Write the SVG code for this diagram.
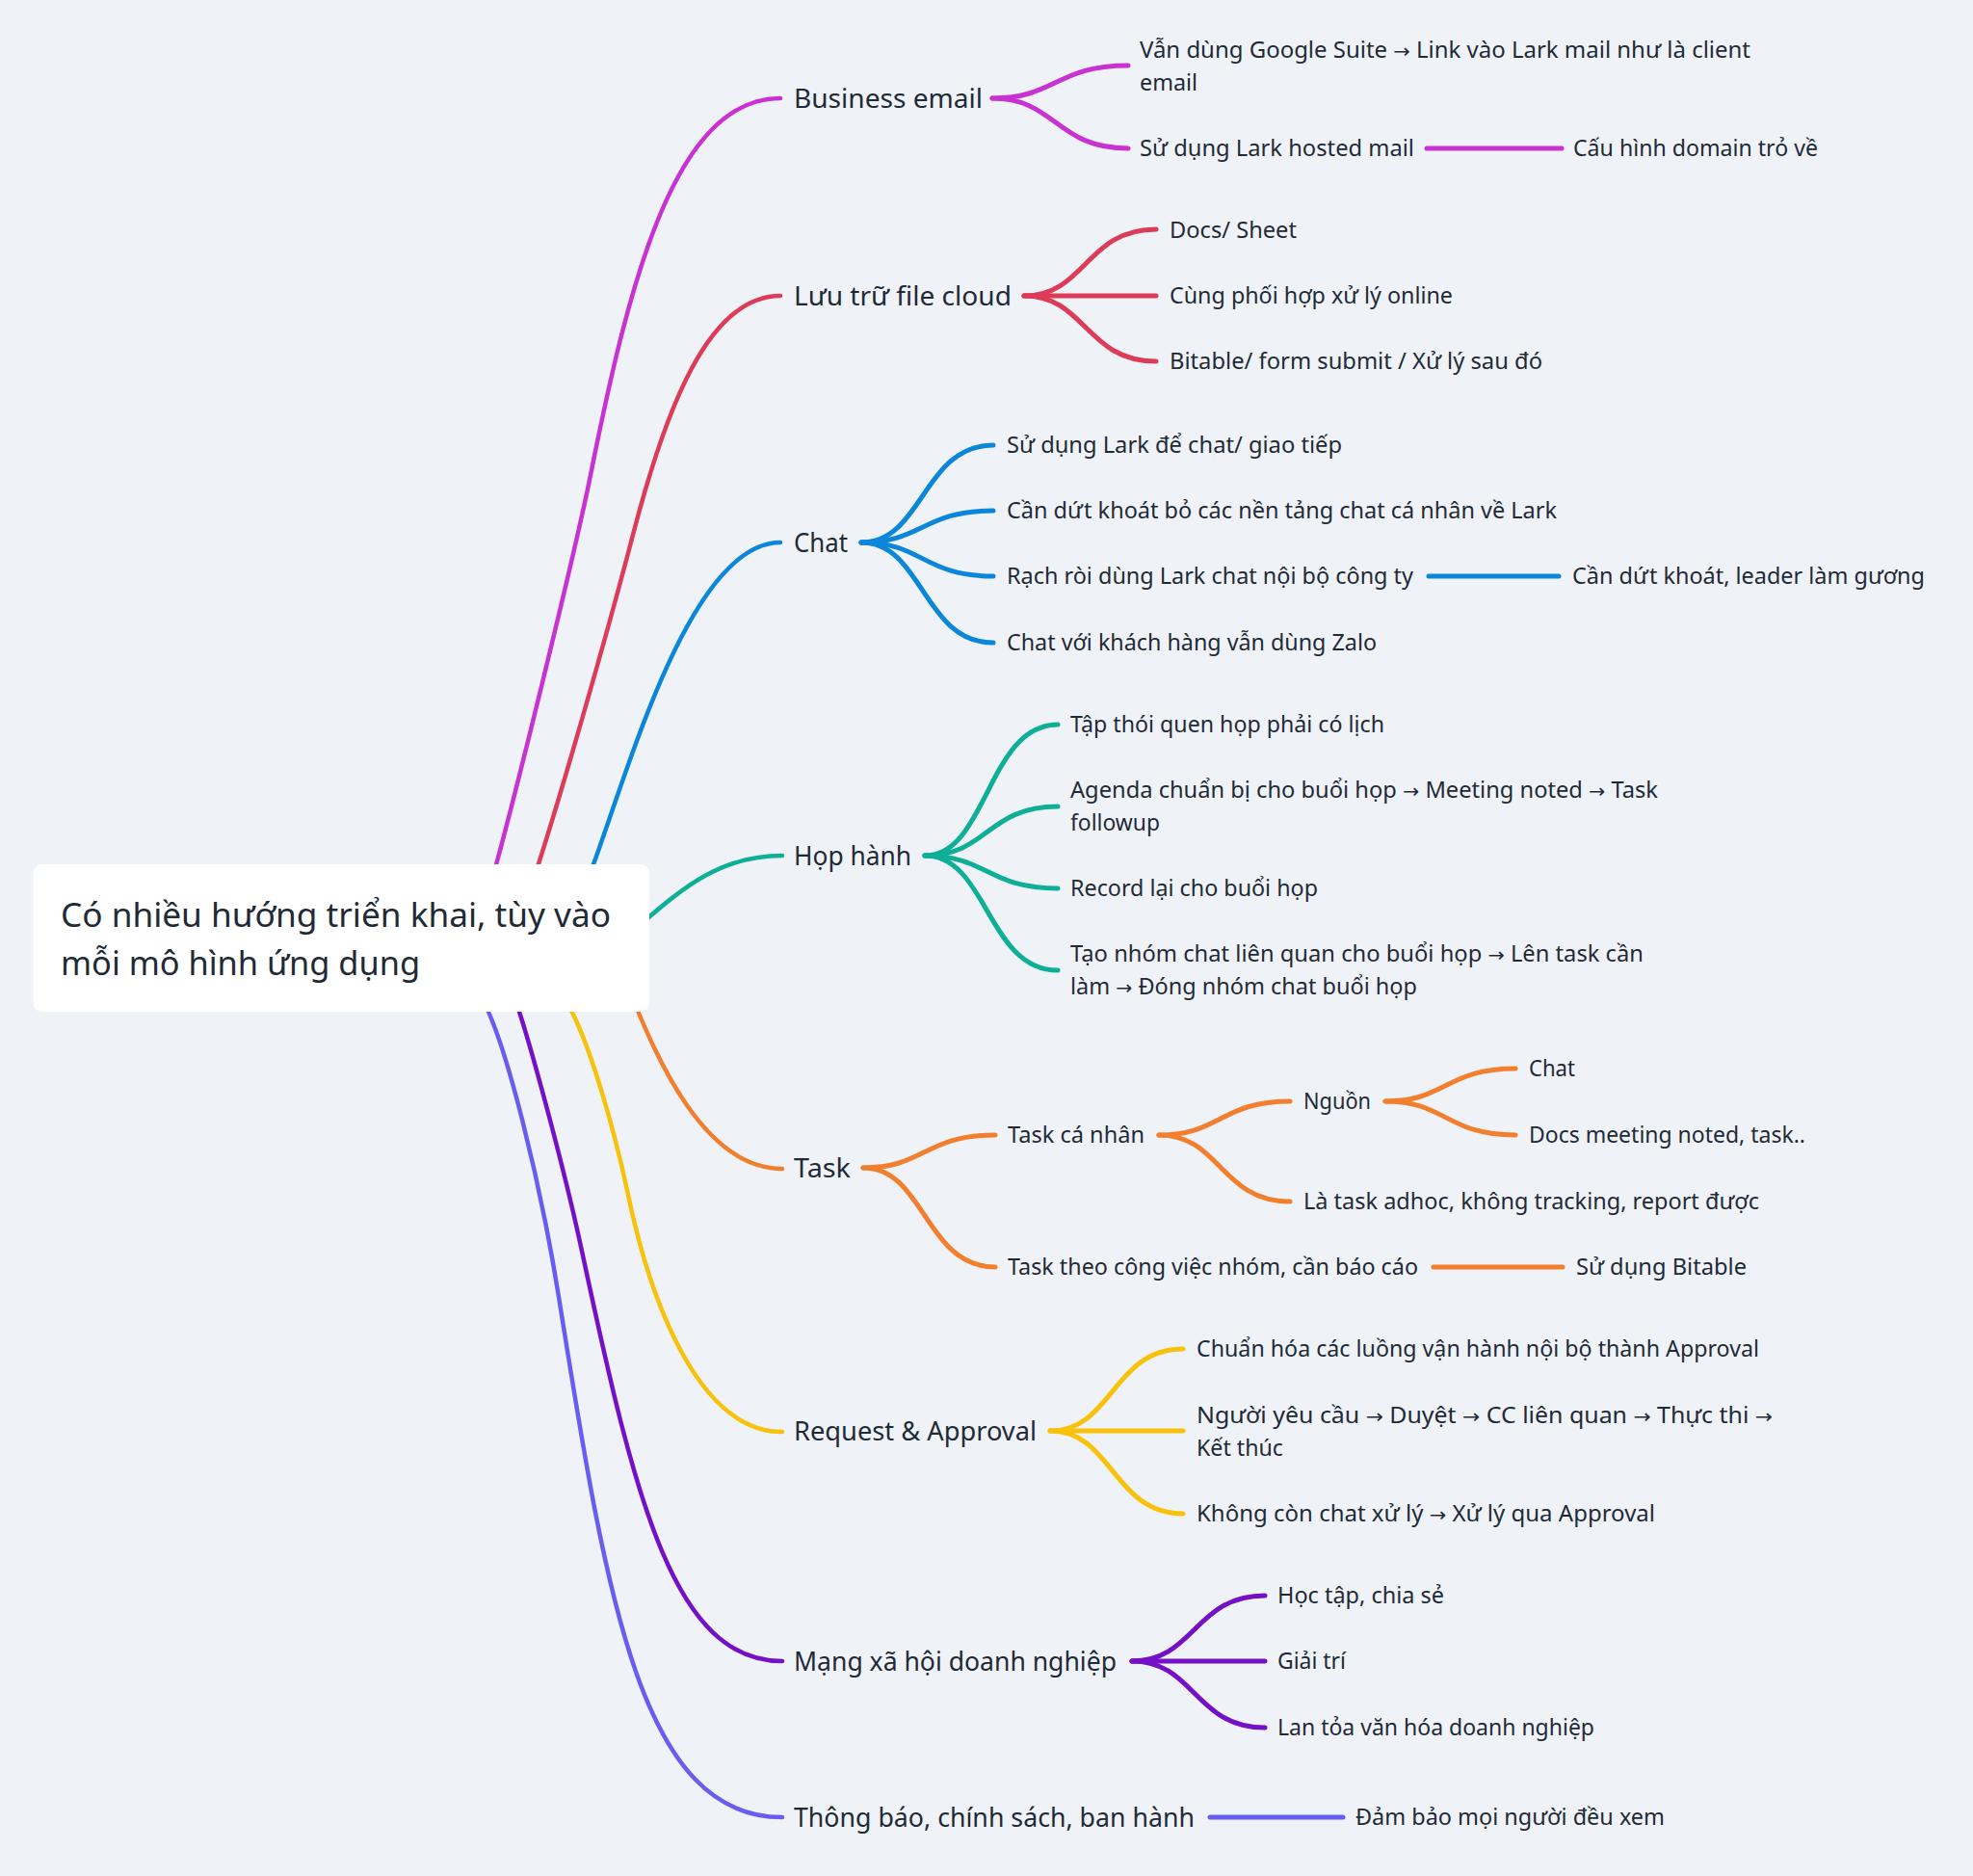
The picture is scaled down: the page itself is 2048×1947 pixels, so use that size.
<svg xmlns="http://www.w3.org/2000/svg" width="2048" height="1947" viewBox="0 0 2048 1947">
<style>
text{font-family:"Noto Sans","Liberation Sans","DejaVu Sans",sans-serif;fill:#1f2a37}
.root{font-size:34px}
.l1{font-size:27px}
.l2{font-size:23px}
.ar{font-family:"DejaVu Sans",sans-serif;font-size:20px}
.r{fill:none;stroke-width:4.5;stroke-linecap:round}
.c{fill:none;stroke-width:5;stroke-linecap:round}
.mag{stroke:#c932d2}.red{stroke:#dc3c58}.blu{stroke:#0b86d9}.tea{stroke:#0fae96}
.ora{stroke:#f27f2d}.yel{stroke:#f8c10c}.pur{stroke:#7411c6}.vio{stroke:#6b5cf0}
</style>
<rect width="2048" height="1947" fill="#eff3f8"/>
<g id="connectors">
<path class="r mag" d="M511 912 C534 830 597 573 613 493 C653 293 700 102 810 102"/>
<path class="r red" d="M554 912 C580.4 832 631 655 657 555 C690.8 425 735 307 810 307"/>
<path class="r blu" d="M612 908 C650 808 715 563 810 563"/>
<path class="r tea" d="M650 972 C700 930 740 888 812 888"/>
<path class="r ora" d="M652 1025 C675 1080 725 1213 812 1213"/>
<path class="r yel" d="M587 1038 C610 1075 637.3 1170 652 1240 C675 1350 725 1486 812 1486"/>
<path class="r pur" d="M535 1038 C549 1078 586 1213 605 1303 C660 1560 700 1724 812 1724"/>
<path class="r vio" d="M500 1036 C525 1080 560.8 1226 580 1346 C630 1660 665 1886 812 1886"/>

<path class="c mag" d="M1030 102 C1096 102 1096 68 1171 68"/>
<path class="c mag" d="M1030 102 C1096 102 1096 154 1171 154"/>
<path class="c mag" d="M1481 154 L1621 154"/>

<path class="c red" d="M1063 307 C1127 307 1127 238 1200 238"/>
<path class="c red" d="M1063 307 L1200 307"/>
<path class="c red" d="M1063 307 C1127 307 1127 375 1200 375"/>

<path class="c blu" d="M894 563 C958 563 958 462 1031 462"/>
<path class="c blu" d="M894 563 C958 563 958 530 1031 530"/>
<path class="c blu" d="M894 563 C958 563 958 598 1031 598"/>
<path class="c blu" d="M894 563 C958 563 958 667 1031 667"/>
<path class="c blu" d="M1483 598 L1618 598"/>

<path class="c tea" d="M960 888 C1025 888 1025 752 1098 752"/>
<path class="c tea" d="M960 888 C1025 888 1025 837 1098 837"/>
<path class="c tea" d="M960 888 C1025 888 1025 922 1098 922"/>
<path class="c tea" d="M960 888 C1025 888 1025 1007 1098 1007"/>

<path class="c ora" d="M896 1212 C960 1212 960 1178 1033 1178"/>
<path class="c ora" d="M896 1212 C960 1212 960 1315 1033 1315"/>
<path class="c ora" d="M1203 1178 C1267 1178 1267 1143 1339 1143"/>
<path class="c ora" d="M1203 1178 C1267 1178 1267 1247 1339 1247"/>
<path class="c ora" d="M1438 1143 C1501 1143 1501 1109 1573 1109"/>
<path class="c ora" d="M1438 1143 C1501 1143 1501 1178 1573 1178"/>
<path class="c ora" d="M1488 1315 L1622 1315"/>

<path class="c yel" d="M1090 1485 C1155 1485 1155 1400 1228 1400"/>
<path class="c yel" d="M1090 1485 L1228 1485"/>
<path class="c yel" d="M1090 1485 C1155 1485 1155 1571 1228 1571"/>

<path class="c pur" d="M1175 1724 C1240 1724 1240 1656 1313 1656"/>
<path class="c pur" d="M1175 1724 L1313 1724"/>
<path class="c pur" d="M1175 1724 C1240 1724 1240 1793 1313 1793"/>

<path class="c vio" d="M1256 1886 L1394 1886"/>
</g>

<g id="root">
<rect x="34.5" y="897" width="639.5" height="153" rx="9" fill="#ffffff"/>
<text class="root" x="63" y="962" textLength="571" lengthAdjust="spacingAndGlyphs">Có nhiều hướng triển khai, tùy vào</text>
<text class="root" x="63" y="1012" textLength="373" lengthAdjust="spacingAndGlyphs">mỗi mô hình ứng dụng</text>
</g>

<g id="business-email"><text class="l1" x="824" y="112" textLength="196" lengthAdjust="spacingAndGlyphs">Business email</text></g>
<g id="google-suite">
<text class="l2" x="1183" y="60" textLength="634" lengthAdjust="spacingAndGlyphs">Vẫn dùng Google Suite <tspan class="ar">→</tspan> Link vào Lark mail như là client</text>
<text class="l2" x="1183" y="94" textLength="60" lengthAdjust="spacingAndGlyphs">email</text>
</g>
<g id="lark-hosted-mail"><text class="l2" x="1183" y="162" textLength="285" lengthAdjust="spacingAndGlyphs">Sử dụng Lark hosted mail</text></g>
<g id="domain"><text class="l2" x="1633" y="162" textLength="254" lengthAdjust="spacingAndGlyphs">Cấu hình domain trỏ về</text></g>

<g id="file-cloud"><text class="l1" x="824" y="317" textLength="226" lengthAdjust="spacingAndGlyphs">Lưu trữ file cloud</text></g>
<g id="docs-sheet"><text class="l2" x="1214" y="247" textLength="132" lengthAdjust="spacingAndGlyphs">Docs/ Sheet</text></g>
<g id="phoi-hop"><text class="l2" x="1214" y="315" textLength="294" lengthAdjust="spacingAndGlyphs">Cùng phối hợp xử lý online</text></g>
<g id="bitable-form"><text class="l2" x="1214" y="383" textLength="387" lengthAdjust="spacingAndGlyphs">Bitable/ form submit / Xử lý sau đó</text></g>

<g id="chat"><text class="l1" x="824" y="573" textLength="56" lengthAdjust="spacingAndGlyphs">Chat</text></g>
<g id="chat-1"><text class="l2" x="1045" y="470" textLength="348" lengthAdjust="spacingAndGlyphs">Sử dụng Lark để chat/ giao tiếp</text></g>
<g id="chat-2"><text class="l2" x="1045" y="538" textLength="571" lengthAdjust="spacingAndGlyphs">Cần dứt khoát bỏ các nền tảng chat cá nhân về Lark</text></g>
<g id="chat-3"><text class="l2" x="1045" y="606" textLength="422" lengthAdjust="spacingAndGlyphs">Rạch ròi dùng Lark chat nội bộ công ty</text></g>
<g id="chat-3a"><text class="l2" x="1632" y="606" textLength="366" lengthAdjust="spacingAndGlyphs">Cần dứt khoát, leader làm gương</text></g>
<g id="chat-4"><text class="l2" x="1045" y="675" textLength="384" lengthAdjust="spacingAndGlyphs">Chat với khách hàng vẫn dùng Zalo</text></g>

<g id="hop-hanh"><text class="l1" x="824" y="898" textLength="122" lengthAdjust="spacingAndGlyphs">Họp hành</text></g>
<g id="hop-1"><text class="l2" x="1111" y="760" textLength="326" lengthAdjust="spacingAndGlyphs">Tập thói quen họp phải có lịch</text></g>
<g id="hop-2">
<text class="l2" x="1111" y="828" textLength="610" lengthAdjust="spacingAndGlyphs">Agenda chuẩn bị cho buổi họp <tspan class="ar">→</tspan> Meeting noted <tspan class="ar">→</tspan> Task</text>
<text class="l2" x="1111" y="862" textLength="93" lengthAdjust="spacingAndGlyphs">followup</text>
</g>
<g id="hop-3"><text class="l2" x="1111" y="930" textLength="257" lengthAdjust="spacingAndGlyphs">Record lại cho buổi họp</text></g>
<g id="hop-4">
<text class="l2" x="1111" y="998" textLength="595" lengthAdjust="spacingAndGlyphs">Tạo nhóm chat liên quan cho buổi họp <tspan class="ar">→</tspan> Lên task cần</text>
<text class="l2" x="1111" y="1032" textLength="360" lengthAdjust="spacingAndGlyphs">làm <tspan class="ar">→</tspan> Đóng nhóm chat buổi họp</text>
</g>

<g id="task"><text class="l1" x="824" y="1222" textLength="59" lengthAdjust="spacingAndGlyphs">Task</text></g>
<g id="task-ca-nhan"><text class="l2" x="1046" y="1186" textLength="142" lengthAdjust="spacingAndGlyphs">Task cá nhân</text></g>
<g id="nguon"><text class="l2" x="1353" y="1151" textLength="70" lengthAdjust="spacingAndGlyphs">Nguồn</text></g>
<g id="nguon-chat"><text class="l2" x="1587" y="1117" textLength="48" lengthAdjust="spacingAndGlyphs">Chat</text></g>
<g id="nguon-docs"><text class="l2" x="1587" y="1186" textLength="287" lengthAdjust="spacingAndGlyphs">Docs meeting noted, task..</text></g>
<g id="adhoc"><text class="l2" x="1353" y="1255" textLength="473" lengthAdjust="spacingAndGlyphs">Là task adhoc, không tracking, report được</text></g>
<g id="task-nhom"><text class="l2" x="1046" y="1323" textLength="426" lengthAdjust="spacingAndGlyphs">Task theo công việc nhóm, cần báo cáo</text></g>
<g id="bitable"><text class="l2" x="1636" y="1323" textLength="177" lengthAdjust="spacingAndGlyphs">Sử dụng Bitable</text></g>

<g id="request"><text class="l1" x="824" y="1495" textLength="252" lengthAdjust="spacingAndGlyphs">Request &amp; Approval</text></g>
<g id="req-1"><text class="l2" x="1242" y="1408" textLength="584" lengthAdjust="spacingAndGlyphs">Chuẩn hóa các luồng vận hành nội bộ thành Approval</text></g>
<g id="req-2">
<text class="l2" x="1242" y="1477" textLength="598" lengthAdjust="spacingAndGlyphs">Người yêu cầu <tspan class="ar">→</tspan> Duyệt <tspan class="ar">→</tspan> CC liên quan <tspan class="ar">→</tspan> Thực thi <tspan class="ar">→</tspan></text>
<text class="l2" x="1242" y="1511" textLength="90" lengthAdjust="spacingAndGlyphs">Kết thúc</text>
</g>
<g id="req-3"><text class="l2" x="1242" y="1579" textLength="476" lengthAdjust="spacingAndGlyphs">Không còn chat xử lý <tspan class="ar">→</tspan> Xử lý qua Approval</text></g>

<g id="mang-xa-hoi"><text class="l1" x="824" y="1734" textLength="335" lengthAdjust="spacingAndGlyphs">Mạng xã hội doanh nghiệp</text></g>
<g id="mxh-1"><text class="l2" x="1326" y="1664" textLength="173" lengthAdjust="spacingAndGlyphs">Học tập, chia sẻ</text></g>
<g id="mxh-2"><text class="l2" x="1326" y="1732" textLength="71" lengthAdjust="spacingAndGlyphs">Giải trí</text></g>
<g id="mxh-3"><text class="l2" x="1326" y="1801" textLength="329" lengthAdjust="spacingAndGlyphs">Lan tỏa văn hóa doanh nghiệp</text></g>

<g id="thong-bao"><text class="l1" x="824" y="1896" textLength="416" lengthAdjust="spacingAndGlyphs">Thông báo, chính sách, ban hành</text></g>
<g id="dam-bao"><text class="l2" x="1407" y="1894" textLength="321" lengthAdjust="spacingAndGlyphs">Đảm bảo mọi người đều xem</text></g>
</svg>
